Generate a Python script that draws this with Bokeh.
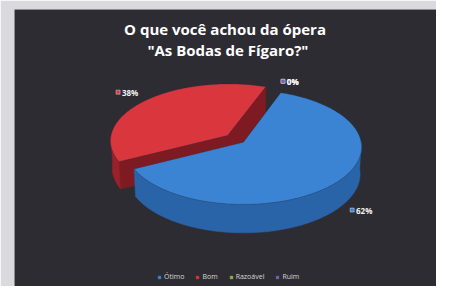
import numpy as np
from bokeh.plotting import figure
from bokeh.models import Range1d, Legend, LegendItem
from bokeh.core.properties import value
from bokeh.embed import file_html
from bokeh.resources import INLINE

# ---- data ----
title_lines = ["O que você achou da ópera", "\"As Bodas de Fígaro?\""]
categories = ["Ótimo", "Bom", "Razoável", "Ruim"]
values = [62, 38, 0, 0]
explode = [0.0, 0.18, 0.0, 0.0]
top_colors = ["#3b84d4", "#d9363d", "#8db04e", "#7a5fb0"]
side_colors = ["#2a64a8", "#9a2129", "#5f7a30", "#54407e"]
wall_colors = ["#24558f", "#7e1a22", "#4c6226", "#463468"]

# ---- 3-D view (coordinates in reference-picture pixels, y downward) ----
cx, cy0, S = 252.0, 150.0, 122.0
phi = np.radians(29.5)
D = 10.5
t = 0.27
start_deg = 70.0

W, H = 436, 286
p = figure(width=W, height=H, output_backend="svg", toolbar_location=None,
           x_range=Range1d(15, 452), y_range=Range1d(302, 10),
           min_border_left=14, min_border_top=9, min_border_right=0, min_border_bottom=0,
           background_fill_color="#2d2c32", border_fill_color="#d9d9de",
           outline_line_color=None)
p.axis.visible = False
p.grid.visible = False

def proj(x, y, z):
    x = np.asarray(x, float); y = np.asarray(y, float); z = np.asarray(z, float)
    yv = y * np.cos(phi) + z * np.sin(phi)
    zv = z * np.cos(phi) - y * np.sin(phi) + D
    k = D / zv
    return cx + S * x * k, cy0 - S * yv * k

total = float(sum(values))
fr = [v / total for v in values]
a_start, a_end = [], []
cur = start_deg
for f in fr:
    a_start.append(cur)
    cur = cur - f * 360.0
    a_end.append(cur)
mids = [(s + e) / 2 for s, e in zip(a_start, a_end)]
order = sorted(range(len(values)), key=lambda i: -np.sin(np.radians(mids[i])))

for i in order:
    if values[i] <= 0:
        continue
    s, e, m = a_start[i], a_end[i], mids[i]
    mr = np.radians(m)
    ox, oz = explode[i] * np.cos(mr), explode[i] * np.sin(mr)
    # radial walls facing the viewer
    for edge, normal in ((s, s + 90.0), (e, e - 90.0)):
        if np.sin(np.radians(normal)) < 0:
            er = np.radians(edge)
            xs = [ox, ox + np.cos(er), ox + np.cos(er), ox]
            zs = [oz, oz + np.sin(er), oz + np.sin(er), oz]
            ys = [0, 0, -t, -t]
            px, py = proj(xs, ys, zs)
            p.patch(list(px), list(py), fill_color=wall_colors[i],
                    line_color=wall_colors[i], line_width=0.5)
    # outer side, front-facing runs
    angs = np.linspace(s, e, 240)
    front = np.sin(np.radians(angs)) < 0
    runs, run = [], []
    for a, f in zip(angs, front):
        if f:
            run.append(a)
        elif run:
            runs.append(run); run = []
    if run:
        runs.append(run)
    for rr in runs:
        rr = np.radians(np.array(rr))
        tx, ty = proj(ox + np.cos(rr), np.zeros_like(rr), oz + np.sin(rr))
        bx, by = proj(ox + np.cos(rr[::-1]), np.full_like(rr, -t), oz + np.sin(rr[::-1]))
        p.patch(list(tx) + list(bx), list(ty) + list(by), fill_color=side_colors[i],
                line_color=side_colors[i], line_width=0.5)
    # top surface
    ar = np.radians(angs)
    tx, ty = proj(np.r_[ox, ox + np.cos(ar)], np.zeros(len(ar) + 1), np.r_[oz, oz + np.sin(ar)])
    p.patch(list(tx), list(ty), fill_color=top_colors[i],
            line_color="#1f2a44", line_width=0.6, line_alpha=0.5)

# ---- data labels (legend key + percentage) ----
kr = 1.25
key_x, key_y, key_c, lab_x, lab_t = [], [], [], [], []
for i in range(len(values)):
    mr = np.radians(mids[i])
    ox, oz = explode[i] * np.cos(mr), explode[i] * np.sin(mr)
    yy = -0.6 * t if np.sin(mr) < 0 else 0.0
    ax, ay = proj(ox + kr * np.cos(mr), yy, oz + kr * np.sin(mr))
    txt = f"{values[i]}%"
    tw = 4.6 * (len(txt) - 1) + 6.4
    gw = 6 + tw
    key_x.append(float(ax) - gw / 2 + 2)
    key_y.append(float(ay))
    key_c.append(top_colors[i])
    lab_x.append(float(ax) - gw / 2 + 6)
    lab_t.append(txt)

p.scatter(x=key_x, y=key_y, marker="square", size=4, fill_color=key_c,
          line_color="#dddddd", line_width=0.5)
p.text(x=lab_x, y=key_y, text=lab_t, text_color="#f2f2f2", text_font=value("Open Sans"),
       text_font_size="8px", text_font_style="bold", text_baseline="middle", text_align="left")

# ---- title ----
p.text(x=[233, 236], y=[31, 53], text=title_lines, text_color="#ffffff",
       text_font=value("Open Sans"), text_font_size="15px", text_font_style="bold",
       text_align="center", text_baseline="middle")

# ---- legend (dummy renderers outside the visible range) ----
items = []
for i, c in enumerate(categories):
    r = p.scatter(x=[-1000], y=[-1000], marker="square", size=5,
                  fill_color=top_colors[i], line_color=top_colors[i])
    items.append(LegendItem(label=c, renderers=[r]))
leg = Legend(items=items, orientation="horizontal", location=(142, 5),
             background_fill_alpha=0, border_line_alpha=0,
             label_text_font="Open Sans", label_text_font_size="7px",
             label_text_color="#d6d6d6", glyph_width=6, glyph_height=6,
             label_standoff=2, spacing=10, padding=0, margin=0,
             label_height=8, label_width=10)
p.add_layout(leg, "center")

open("out.html", "w").write(file_html(p, INLINE))
